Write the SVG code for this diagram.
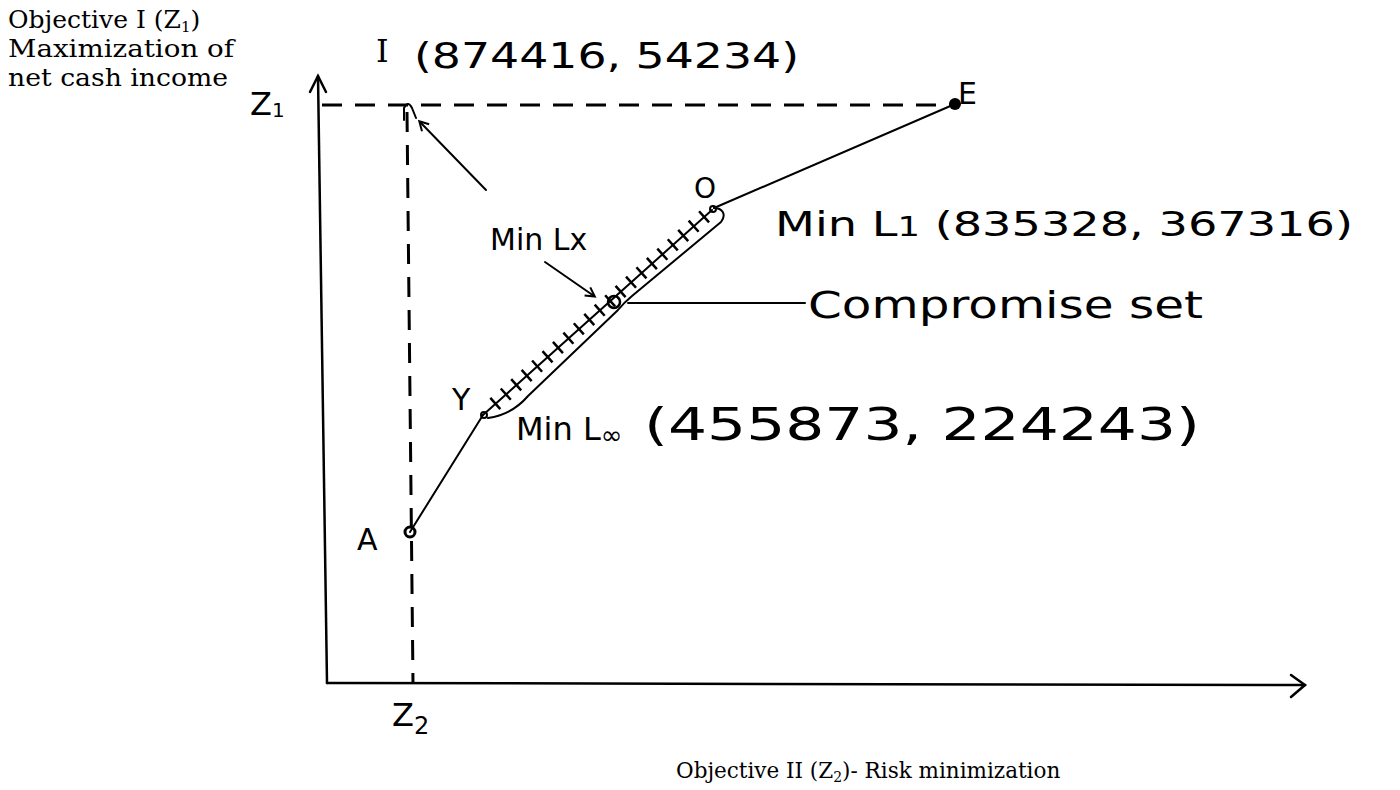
<svg xmlns="http://www.w3.org/2000/svg" width="1400" height="790" viewBox="0 0 1400 790">
<style>
.ax{stroke:#000;stroke-width:2.5;fill:none;stroke-linecap:round}
.ln{stroke:#000;stroke-width:2;fill:none;stroke-linecap:round;stroke-linejoin:round}
.ticks{stroke:#000;stroke-width:15;fill:none;stroke-dasharray:2.5 11.5;stroke-linecap:butt}
.dash{stroke:#000;stroke-width:3;fill:none;stroke-dasharray:20 13}
.typed{font-family:"DejaVu Serif","Liberation Serif",serif;fill:#000}
.hand{font-family:"DejaVu Sans","Liberation Sans",sans-serif;fill:#000}
</style>
<defs>
<marker id="ah" markerWidth="12" markerHeight="12" refX="9" refY="6" orient="auto" markerUnits="userSpaceOnUse">
<path d="M1,1 L10,6 L1,11" fill="none" stroke="#000" stroke-width="2"/>
</marker>
</defs>
<rect width="1400" height="790" fill="#fff"/>

<g id="axes">
<line class="ax" x1="327" y1="683" x2="318" y2="76"/>
<polyline class="ax" points="310,92 318,76 326,92"/>
<line class="ax" x1="327" y1="683" x2="1305" y2="685"/>
<polyline class="ax" points="1291,675 1305,685 1291,697"/>
</g>

<g id="labels-axes">
<text class="typed" x="8" y="28" font-size="25">Objective I (Z<tspan font-size="15" dy="4">1</tspan><tspan dy="-4">)</tspan></text>
<text class="typed" x="8" y="57" font-size="24" textLength="226" lengthAdjust="spacingAndGlyphs">Maximization of</text>
<text class="typed" x="8" y="86" font-size="24" textLength="220" lengthAdjust="spacingAndGlyphs">net cash income</text>
<text class="hand" x="250" y="115" font-size="32">Z<tspan font-size="20" dy="2">1</tspan></text>
<text class="hand" x="392" y="726" font-size="32">Z<tspan font-size="24" dy="8">2</tspan></text>
<text class="typed" x="676" y="778" font-size="21.5">Objective II (Z<tspan font-size="14" dy="4">2</tspan><tspan dy="-4">)- Risk minimization</tspan></text>
</g>

<g id="connectors">
<line class="dash" x1="322" y1="105" x2="950" y2="105"/>
<line class="dash" x1="407" y1="112" x2="413" y2="683"/>
<line class="ln" x1="955" y1="104" x2="714" y2="208"/>
<line class="ln" x1="712" y1="210" x2="483" y2="415"/>
<line class="ticks" x1="705" y1="216" x2="488" y2="410"/>
<line class="ln" x1="483" y1="415" x2="410" y2="532"/>
<path class="ln" d="M714,208 C722,208 727,214 721,222 L632,296 C626,301 622,305 618,310 L528,396 C516,410 502,416 488,418"/>
<line class="ln" x1="628" y1="303" x2="805" y2="303"/>
<line class="ln" x1="486" y1="190" x2="420" y2="122" marker-end="url(#ah)"/>
<line class="ln" x1="545" y1="262" x2="594" y2="296" marker-end="url(#ah)"/>
</g>

<g id="node-I">
<path class="ln" d="M404,120 L404,108 Q408,100 412,108 L416,118" stroke-width="2.5"/>
<text class="typed" x="376" y="62" font-size="32">I</text>
<text class="hand" x="414" y="68" font-size="36" textLength="385" lengthAdjust="spacingAndGlyphs">(874416, 54234)</text>
</g>
<g id="node-E">
<circle cx="955" cy="104" r="6" fill="#000"/>
<text class="hand" x="958" y="104" font-size="30">E</text>
</g>
<g id="node-O">
<text class="hand" x="694" y="198" font-size="28">O</text>
<circle cx="713" cy="209" r="3" fill="none" stroke="#000" stroke-width="2"/>
</g>
<g id="node-MinL1">
<text class="hand" x="775" y="236" font-size="34" textLength="578" lengthAdjust="spacingAndGlyphs">Min L<tspan font-size="26">1</tspan> (835328, 367316)</text>
</g>
<g id="node-MinLx">
<text class="hand" x="490" y="250" font-size="30">Min Lx</text>
</g>
<g id="node-compromise">
<circle cx="614" cy="302" r="6" fill="none" stroke="#000" stroke-width="2.5"/>
<text class="hand" x="808" y="318" font-size="38" textLength="395" lengthAdjust="spacingAndGlyphs">Compromise set</text>
</g>
<g id="node-Y">
<text class="hand" x="452" y="410" font-size="30">Y</text>
<circle cx="484" cy="415" r="3" fill="none" stroke="#000" stroke-width="2"/>
</g>
<g id="node-MinLinf">
<text class="hand" x="516" y="440" font-size="32">Min L<tspan font-size="26" dy="4">∞</tspan></text>
<text class="hand" x="644" y="440" font-size="44" textLength="556" lengthAdjust="spacingAndGlyphs">(455873, 224243)</text>
</g>
<g id="node-A">
<circle cx="410" cy="532" r="5" fill="none" stroke="#000" stroke-width="3"/>
<text class="hand" x="357" y="550" font-size="30">A</text>
</g>
</svg>
